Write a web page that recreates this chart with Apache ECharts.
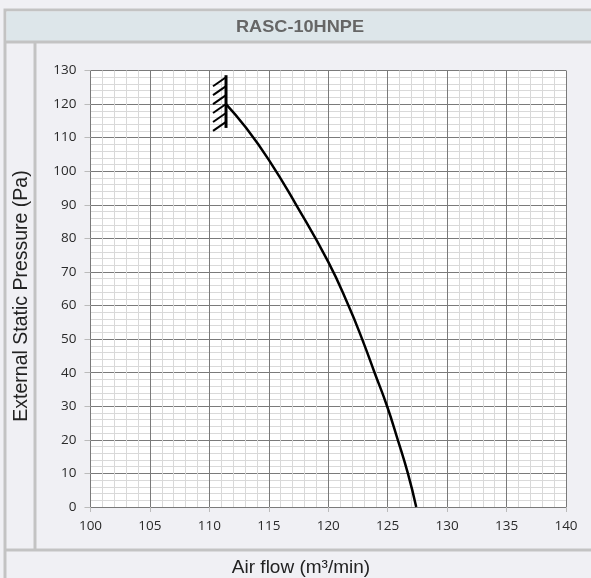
<!DOCTYPE html>
<html><head><meta charset="utf-8">
<script src="https://cdn.jsdelivr.net/npm/echarts@6/dist/echarts.min.js"></script>
<style>html,body{margin:0;padding:0;background:#fff;}#c{width:591px;height:578px;}</style>
</head><body><div id="c"></div>
<script>
var titleText = 'RASC-10HNPE';
var xAxisName = 'Air flow (m³/min)';
var yAxisName = 'External Static Pressure (Pa)';
var airFlow  = [111.4, 113.0, 115.0, 117.3, 120.0, 121.7, 122.85, 123.9, 124.95, 125.85, 126.7, 127.4];
var pressure = [120,   113.3, 103.4,  90,    73,    60,    50,     40,    30,     20,     10,     0];
// limit marker: [x, top, bottom]
var limitMark = [[111.4, 128.6, 112.9]];
var xMin = 100, xMax = 140, xStep = 5;
var yMin = 0, yMax = 130, yStep = 10;

var curve = airFlow.map(function(x, i){ return [x, pressure[i]]; });
var chart = echarts.init(document.getElementById('c'), null, {renderer:'canvas'});
var W = 591, H = 578;
chart.setOption({
  backgroundColor: '#f0f0f4',
  animation: false,
  graphic: [
    {type:'rect', shape:{x:5, y:10, width:W, height:H}, style:{fill:'#f0f0f4', stroke:'#c3c3c3', lineWidth:3}, z:-10},
    {type:'rect', shape:{x:6.5, y:11.5, width:W, height:30}, style:{fill:'#dde6ea'}, z:-9},
    {type:'line', shape:{x1:5, y1:42, x2:W, y2:42}, style:{stroke:'#c3c3c3', lineWidth:3}, z:-8},
    {type:'line', shape:{x1:35, y1:42, x2:35, y2:550}, style:{stroke:'#c3c3c3', lineWidth:3}, z:-8},
    {type:'line', shape:{x1:5, y1:550, x2:W, y2:550}, style:{stroke:'#c3c3c3', lineWidth:3}, z:-8},
    {type:'text', x:300, y:27, scaleX:1.1, style:{text:titleText, fill:'#666666', font:'bold 16.5px "Liberation Sans", Arial, sans-serif', align:'center', verticalAlign:'middle'}},
    {type:'text', x:301, y:568, style:{text:xAxisName, fill:'#222', font:'19px "Liberation Sans", Arial, sans-serif', align:'center', verticalAlign:'middle'}},
    {type:'text', x:22, y:296, rotation:Math.PI/2, style:{text:yAxisName, fill:'#222', font:'19.5px "Liberation Sans", Arial, sans-serif', align:'center', verticalAlign:'middle'}}
  ],
  grid: {left:90.5, right:25, top:70.5, bottom:71, show:true, backgroundColor:'#ffffff', borderColor:'#888', borderWidth:0},
  xAxis: {
    type:'value', min:xMin, max:xMax, interval:xStep,
    axisLine:{show:false},
    axisTick:{show:true, length:5, lineStyle:{color:'#bbb'}},
    axisLabel:{color:'#2a2a2a', fontSize:13.5, fontFamily:'"Open Sans", sans-serif', margin:12},
    splitLine:{show:true, lineStyle:{color:'#7a7a7a', width:1}},
    minorTick:{show:false, splitNumber:5},
    minorSplitLine:{show:true, lineStyle:{color:'#d9d9d9', width:1}}
  },
  yAxis: {
    type:'value', min:yMin, max:yMax, interval:yStep,
    axisLine:{show:false},
    axisTick:{show:true, length:6, lineStyle:{color:'#bbb'}},
    axisLabel:{color:'#2a2a2a', fontSize:13.5, fontFamily:'"Open Sans", sans-serif', margin:14},
    splitLine:{show:true, lineStyle:{color:'#7a7a7a', width:1}},
    minorTick:{show:false, splitNumber:5},
    minorSplitLine:{show:true, lineStyle:{color:'#d9d9d9', width:1}}
  },
  series: [
    {type:'line', data:curve, smooth:0.5, symbol:'none', lineStyle:{color:'#000', width:2.5}, z:5},
    {type:'custom', data:limitMark, z:6,
     renderItem:function(params, api){
       var top = api.coord([api.value(0), api.value(1)]);
       var bot = api.coord([api.value(0), api.value(2)]);
       var children = [{type:'line', shape:{x1:top[0], y1:top[1], x2:bot[0], y2:bot[1]}, style:{stroke:'#000', lineWidth:3}}];
       var n = 6, span = (bot[1]-top[1]);
       for (var i=0;i<n;i++){
         var yy = top[1] + 2 + i*(span-8)/ (n-1);
         children.push({type:'line', shape:{x1:top[0], y1:yy, x2:top[0]-13, y2:yy+9}, style:{stroke:'#000', lineWidth:2}});
       }
       return {type:'group', children:children};
     }}
  ]
});
</script></body></html>
